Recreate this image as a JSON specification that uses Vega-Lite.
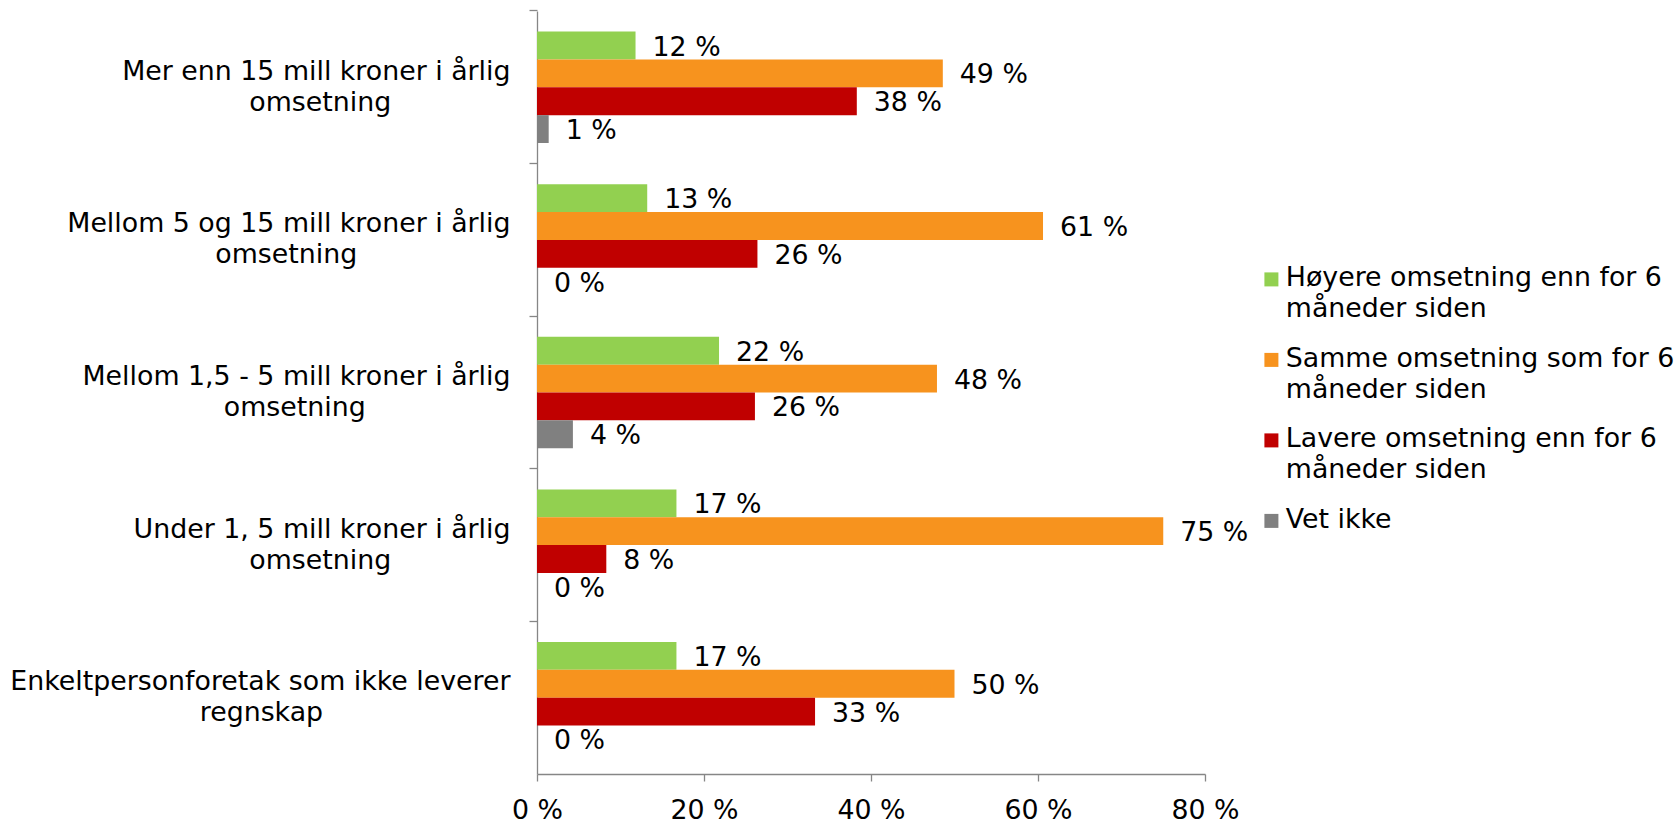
{
  "$schema": "https://vega.github.io/schema/vega-lite/v6.json",
  "autosize": {"type": "none"},
  "padding": {"left": 537, "top": 11, "right": 472, "bottom": 49},
  "width": 668,
  "height": 763,
  "background": "white",
  "config": {
    "font": "DejaVu Sans",
    "view": {"stroke": null},
    "axis": {"labelColor": "#000000", "labelFont": "DejaVu Sans", "labelFontSize": 26.8, "domainColor": "#868686", "tickColor": "#868686", "domainWidth": 1.3, "tickWidth": 1.3, "grid": false, "title": null}
  },
  "data": {
    "values": [
      {"category": "Mer enn 15 mill kroner i årlig omsetning", "series": "Høyere omsetning enn for 6 måneder siden", "value": 11.8, "label": "12 %"},
      {"category": "Mer enn 15 mill kroner i årlig omsetning", "series": "Samme omsetning som for 6 måneder siden", "value": 48.6, "label": "49 %"},
      {"category": "Mer enn 15 mill kroner i årlig omsetning", "series": "Lavere omsetning enn for 6 måneder siden", "value": 38.3, "label": "38 %"},
      {"category": "Mer enn 15 mill kroner i årlig omsetning", "series": "Vet ikke", "value": 1.4, "label": "1 %"},
      {"category": "Mellom 5 og 15 mill kroner i årlig omsetning", "series": "Høyere omsetning enn for 6 måneder siden", "value": 13.2, "label": "13 %"},
      {"category": "Mellom 5 og 15 mill kroner i årlig omsetning", "series": "Samme omsetning som for 6 måneder siden", "value": 60.6, "label": "61 %"},
      {"category": "Mellom 5 og 15 mill kroner i årlig omsetning", "series": "Lavere omsetning enn for 6 måneder siden", "value": 26.4, "label": "26 %"},
      {"category": "Mellom 5 og 15 mill kroner i årlig omsetning", "series": "Vet ikke", "value": 0, "label": "0 %"},
      {"category": "Mellom 1,5 - 5 mill kroner i årlig omsetning", "series": "Høyere omsetning enn for 6 måneder siden", "value": 21.8, "label": "22 %"},
      {"category": "Mellom 1,5 - 5 mill kroner i årlig omsetning", "series": "Samme omsetning som for 6 måneder siden", "value": 47.9, "label": "48 %"},
      {"category": "Mellom 1,5 - 5 mill kroner i årlig omsetning", "series": "Lavere omsetning enn for 6 måneder siden", "value": 26.1, "label": "26 %"},
      {"category": "Mellom 1,5 - 5 mill kroner i årlig omsetning", "series": "Vet ikke", "value": 4.3, "label": "4 %"},
      {"category": "Under 1, 5 mill kroner i årlig omsetning", "series": "Høyere omsetning enn for 6 måneder siden", "value": 16.7, "label": "17 %"},
      {"category": "Under 1, 5 mill kroner i årlig omsetning", "series": "Samme omsetning som for 6 måneder siden", "value": 75.0, "label": "75 %"},
      {"category": "Under 1, 5 mill kroner i årlig omsetning", "series": "Lavere omsetning enn for 6 måneder siden", "value": 8.3, "label": "8 %"},
      {"category": "Under 1, 5 mill kroner i årlig omsetning", "series": "Vet ikke", "value": 0, "label": "0 %"},
      {"category": "Enkeltpersonforetak som ikke leverer regnskap", "series": "Høyere omsetning enn for 6 måneder siden", "value": 16.7, "label": "17 %"},
      {"category": "Enkeltpersonforetak som ikke leverer regnskap", "series": "Samme omsetning som for 6 måneder siden", "value": 50.0, "label": "50 %"},
      {"category": "Enkeltpersonforetak som ikke leverer regnskap", "series": "Lavere omsetning enn for 6 måneder siden", "value": 33.3, "label": "33 %"},
      {"category": "Enkeltpersonforetak som ikke leverer regnskap", "series": "Vet ikke", "value": 0, "label": "0 %"}
    ]
  },
  "encoding": {
    "y": {
      "field": "category",
      "type": "nominal",
      "sort": null,
      "scale": {"paddingInner": 0.27, "paddingOuter": 0.135},
      "axis": {
        "tickSize": 8,
        "labelPadding": 19,
        "labelLimit": 900,
        "labelLineHeight": 31,
        "labelAlign": "right",
        "labelBaseline": "middle",
        "labelOffset": -15.5,
        "bandPosition": -0.185,
        "labelExpr": "indexof(datum.label, 'Enkelt') == 0 ? ['Enkeltpersonforetak som ikke leverer', 'regnskap\u00a0\u00a0\u00a0\u00a0\u00a0\u00a0\u00a0\u00a0\u00a0\u00a0\u00a0\u00a0\u00a0\u00a0\u00a0\u00a0\u00a0\u00a0\u00a0\u00a0\u00a0\u00a0\u200b'] : [replace(datum.label, ' omsetning', ''), indexof(datum.label, 'Mellom 5') == 0 ? 'omsetning\u00a0\u00a0\u00a0\u00a0\u00a0\u00a0\u00a0\u00a0\u00a0\u00a0\u00a0\u00a0\u00a0\u00a0\u00a0\u00a0\u00a0\u00a0\u200b' : indexof(datum.label, 'Mellom 1') == 0 ? 'omsetning\u00a0\u00a0\u00a0\u00a0\u00a0\u00a0\u00a0\u00a0\u00a0\u00a0\u00a0\u00a0\u00a0\u00a0\u00a0\u00a0\u00a0\u200b' : 'omsetning\u00a0\u00a0\u00a0\u00a0\u00a0\u00a0\u00a0\u00a0\u00a0\u00a0\u00a0\u00a0\u00a0\u00a0\u200b']"
      }
    },
    "yOffset": {
      "field": "series",
      "type": "nominal",
      "sort": ["Høyere omsetning enn for 6 måneder siden", "Samme omsetning som for 6 måneder siden", "Lavere omsetning enn for 6 måneder siden", "Vet ikke"],
      "scale": {"paddingInner": 0, "paddingOuter": 0}
    },
    "x": {
      "field": "value",
      "type": "quantitative",
      "scale": {"domain": [0, 80], "nice": false},
      "axis": {"values": [0, 20, 40, 60, 80], "tickSize": 7, "labelPadding": 16, "labelExpr": "datum.value + ' %'", "labelFlush": false}
    }
  },
  "layer": [
    {
      "mark": {"type": "bar", "strokeWidth": 0},
      "encoding": {
        "color": {
          "field": "series",
          "type": "nominal",
          "sort": ["Høyere omsetning enn for 6 måneder siden", "Samme omsetning som for 6 måneder siden", "Lavere omsetning enn for 6 måneder siden", "Vet ikke"],
          "scale": {
            "domain": ["Høyere omsetning enn for 6 måneder siden", "Samme omsetning som for 6 måneder siden", "Lavere omsetning enn for 6 måneder siden", "Vet ikke"],
            "range": ["#92D050", "#F7931E", "#C00000", "#808080"]
          },
          "legend": {
            "orient": "none",
            "legendX": 721,
            "legendY": 255,
            "title": null,
            "padding": 0,
            "symbolType": "square",
            "symbolSize": 196,
            "symbolStrokeWidth": 0,
            "labelFont": "DejaVu Sans",
            "labelFontSize": 26.8,
            "labelColor": "#000000",
            "labelLimit": 900,
            "labelOffset": 1,
            "rowPadding": 21.5,
            "labelBaseline": "top",
            "labelExpr": "indexof(datum.label, ' måneder') > 0 ? [replace(datum.label, ' måneder siden', ''), 'måneder siden'] : datum.label",
            "encode": {"labels": {"update": {"lineHeight": {"value": 31}, "dy": {"value": -14}}}}
          }
        }
      }
    },
    {
      "mark": {"type": "text", "align": "left", "baseline": "middle", "dx": 17, "dy": 2, "fontSize": 26.8, "font": "DejaVu Sans", "color": "#000000"},
      "encoding": {"text": {"field": "label", "type": "nominal"}}
    }
  ]
}
